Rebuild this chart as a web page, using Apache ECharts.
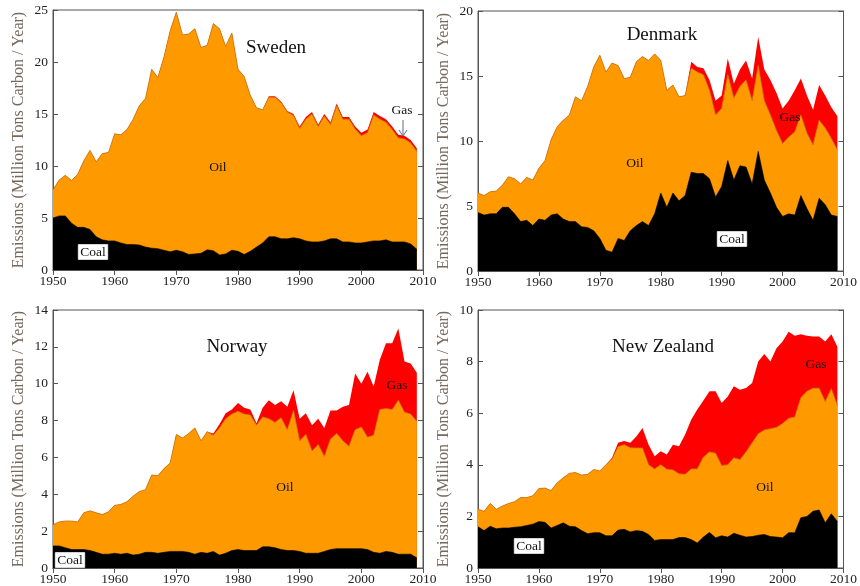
<!DOCTYPE html>
<html>
<head>
<meta charset="utf-8">
<script src="https://cdn.jsdelivr.net/npm/echarts@6/dist/echarts.min.js"></script>
<style>html,body{margin:0;padding:0;background:#fff}#c{width:860px;height:586px}</style>
</head>
<body>
<div id="c"></div>
<script>
// Years 1950..2009
const years = Array.from({length: 60}, (_, i) => 1950 + i);
const xTicks = [1950, 1960, 1970, 1980, 1990, 2000, 2010];
const yTitle = 'Emissions (Million Tons Carbon / Year)';

// Cumulative boundaries: coal top, coal+oil top, total (coal+oil+gas)
const swedenCoal = [5.0,5.2,5.2,4.5,4.1,4.1,3.9,3.2,2.9,2.8,2.8,2.6,2.45,2.45,2.4,2.2,2.1,2.05,1.9,1.75,1.9,1.75,1.5,1.55,1.6,1.95,1.85,1.45,1.55,1.9,1.8,1.5,1.8,2.2,2.6,3.2,3.2,3.0,3.0,3.1,3.0,2.8,2.7,2.7,2.8,3.0,3.0,2.7,2.7,2.6,2.6,2.7,2.8,2.8,2.9,2.7,2.7,2.7,2.5,2.0];
const swedenCoalOil = [7.7,8.65,9.1,8.6,9.2,10.5,11.5,10.4,11.2,11.3,13.1,13.0,13.5,14.5,15.8,16.5,19.3,18.5,20.5,23.0,24.8,22.6,22.7,23.2,21.4,21.6,23.7,23.2,21.5,22.8,19.3,18.6,16.8,15.6,15.4,16.6,16.6,16.1,15.2,14.85,13.6,14.5,15.0,13.8,14.8,14.0,15.8,14.5,14.5,13.55,12.9,13.2,14.9,14.5,14.2,13.5,12.7,12.6,12.2,11.4];
const swedenTotal = [7.7,8.65,9.1,8.6,9.2,10.5,11.5,10.4,11.2,11.3,13.1,13.0,13.5,14.5,15.8,16.5,19.3,18.5,20.5,23.0,24.8,22.6,22.7,23.2,21.4,21.6,23.7,23.2,21.5,22.8,19.3,18.6,16.8,15.6,15.4,16.7,16.7,16.2,15.3,15.0,13.8,14.7,15.2,14.0,15.0,14.2,16.0,14.7,14.7,13.8,13.2,13.5,15.2,14.8,14.5,13.8,13.0,12.9,12.5,11.7];

const denmarkCoal = [4.5,4.3,4.4,4.4,4.9,4.9,4.4,3.8,3.9,3.5,4.0,3.9,4.3,4.4,4.0,3.8,3.8,3.4,3.35,3.1,2.5,1.6,1.45,2.5,2.35,3.1,3.5,3.8,3.5,4.4,6.0,4.9,6.0,5.4,5.8,7.6,7.5,7.5,7.1,5.7,6.5,8.5,7.0,8.1,8.0,6.7,9.2,7.0,6.0,4.9,4.2,4.4,4.3,5.8,4.8,3.9,5.6,5.1,4.3,4.2];
const denmarkCoalOil = [6.0,5.8,6.1,6.15,6.6,7.25,7.1,6.7,7.2,7.0,7.9,8.5,10.1,11.1,11.6,12.0,13.4,13.1,14.2,15.7,16.6,15.3,16.0,15.8,14.8,14.9,16.1,16.5,16.2,16.7,16.2,13.9,14.3,13.4,13.5,15.6,15.3,15.1,13.9,12.0,12.5,15.1,13.3,14.2,14.7,13.1,15.8,13.1,12.0,10.8,9.8,10.3,10.7,12.0,10.6,9.7,11.6,11.0,10.2,9.3];
const denmarkTotal = [6.0,5.8,6.1,6.15,6.6,7.25,7.1,6.7,7.2,7.0,7.9,8.5,10.1,11.1,11.6,12.0,13.4,13.1,14.2,15.7,16.6,15.3,16.0,15.8,14.8,14.9,16.1,16.5,16.2,16.7,16.2,13.9,14.3,13.4,13.5,16.1,15.7,15.6,14.7,13.1,13.5,16.35,14.4,15.5,16.2,14.8,18.0,15.5,14.7,13.7,12.5,13.1,13.9,14.8,13.5,12.4,14.3,13.5,12.6,11.9];

const norwayCoal = [1.2,1.2,1.1,1.0,1.0,1.0,0.95,0.85,0.75,0.75,0.8,0.75,0.8,0.7,0.75,0.85,0.85,0.8,0.85,0.9,0.9,0.9,0.85,0.75,0.85,0.8,0.9,0.7,0.8,0.95,1.0,0.95,0.95,0.95,1.15,1.15,1.1,1.0,0.95,0.95,0.9,0.8,0.8,0.8,0.9,1.0,1.05,1.05,1.05,1.05,1.05,1.0,0.85,0.8,0.9,0.85,0.75,0.75,0.75,0.55];
const norwayCoalOil = [2.35,2.5,2.55,2.55,2.5,3.0,3.1,3.0,2.9,3.05,3.4,3.45,3.6,3.9,4.15,4.25,5.05,5.0,5.4,5.7,7.25,7.05,7.3,7.6,6.9,7.4,7.2,7.6,8.1,8.35,8.5,8.35,8.3,7.75,8.2,8.1,7.9,8.15,7.5,8.55,6.9,7.25,6.35,6.7,6.05,7.0,7.3,6.9,6.6,7.5,7.65,7.1,7.2,8.6,8.65,8.6,9.1,8.45,8.35,7.95];
const norwayTotal = [2.35,2.5,2.55,2.55,2.5,3.0,3.1,3.0,2.9,3.05,3.4,3.45,3.6,3.9,4.15,4.25,5.05,5.0,5.4,5.7,7.25,7.05,7.3,7.6,6.9,7.4,7.3,7.8,8.4,8.6,8.95,8.7,8.6,7.85,8.7,9.1,8.85,9.05,8.75,9.65,8.1,8.4,7.75,8.1,7.6,8.55,8.55,8.75,8.85,10.55,10.0,10.65,9.85,11.3,12.2,12.2,13.0,11.2,11.1,10.6];

const nzCoal = [1.6,1.45,1.62,1.52,1.55,1.55,1.58,1.6,1.65,1.7,1.8,1.77,1.55,1.65,1.75,1.62,1.6,1.45,1.33,1.37,1.37,1.25,1.25,1.47,1.5,1.4,1.45,1.42,1.3,1.07,1.1,1.1,1.1,1.18,1.18,1.1,0.97,1.2,1.38,1.17,1.25,1.2,1.35,1.27,1.2,1.22,1.27,1.3,1.22,1.2,1.17,1.37,1.37,1.95,2.0,2.2,2.25,1.75,2.1,1.8];
const nzCoalOil = [2.28,2.2,2.5,2.28,2.4,2.5,2.57,2.73,2.73,2.8,3.08,3.1,3.0,3.3,3.5,3.67,3.7,3.6,3.63,3.82,3.76,4.0,4.22,4.7,4.78,4.66,4.65,4.65,4.0,3.84,4.0,3.83,3.8,3.65,3.63,3.84,3.84,4.3,4.5,4.45,3.97,4.0,4.27,4.2,4.5,4.85,5.2,5.35,5.4,5.45,5.6,5.8,5.85,6.6,6.85,6.97,6.97,6.45,6.95,6.3];
const nzTotal = [2.28,2.2,2.5,2.28,2.4,2.5,2.57,2.73,2.73,2.8,3.08,3.1,3.0,3.3,3.5,3.67,3.7,3.6,3.63,3.82,3.76,4.0,4.27,4.85,4.92,4.85,5.1,5.43,4.78,4.33,4.53,4.4,4.78,4.72,5.17,5.75,6.14,6.49,6.85,6.85,6.4,6.65,7.04,6.91,6.98,7.17,8.0,8.29,8.0,8.52,8.78,9.16,9.0,9.06,9.0,8.97,8.97,8.78,9.06,8.58];

const panels = [
  {name: 'Sweden', coal: swedenCoal, coalOil: swedenCoalOil, total: swedenTotal, yMax: 25, yStep: 5,
   grid: {left: 53, top: 10, width: 370, height: 260}},
  {name: 'Denmark', coal: denmarkCoal, coalOil: denmarkCoalOil, total: denmarkTotal, yMax: 20, yStep: 5,
   grid: {left: 478, top: 11, width: 370, height: 260}},
  {name: 'Norway', coal: norwayCoal, coalOil: norwayCoalOil, total: norwayTotal, yMax: 14, yStep: 2,
   grid: {left: 53, top: 310, width: 370, height: 258}},
  {name: 'New Zealand', coal: nzCoal, coalOil: nzCoalOil, total: nzTotal, yMax: 10, yStep: 2,
   grid: {left: 478, top: 310, width: 370, height: 259}}
];

const FONT = '"Liberation Serif", "DejaVu Serif", serif';
const frame = '#555';
const grid = [], xAxis = [], yAxis = [], series = [];

panels.forEach((p, i) => {
  grid.push(Object.assign({show: true, borderColor: frame, borderWidth: 1, backgroundColor: 'transparent'}, p.grid));
  const tick = {show: true, inside: true, length: 5, lineStyle: {color: frame, width: 1}};
  xAxis.push({
    type: 'value', gridIndex: i, min: 1950, max: 2010, interval: 10, position: 'bottom',
    axisLine: {show: true, lineStyle: {color: frame}}, axisTick: tick,
    axisLabel: {fontFamily: FONT, fontSize: 13.5, color: '#222', margin: 4,
      formatter: v => xTicks.includes(v) ? String(v) : ''},
    splitLine: {show: false}
  });
  xAxis.push({
    type: 'value', gridIndex: i, min: 1950, max: 2010, interval: 10, position: 'top',
    axisLine: {show: true, lineStyle: {color: frame}}, axisTick: tick,
    axisLabel: {show: false}, splitLine: {show: false}
  });
  yAxis.push({
    type: 'value', gridIndex: i, min: 0, max: p.yMax, interval: p.yStep, position: 'left',
    axisLine: {show: true, lineStyle: {color: frame}}, axisTick: tick,
    axisLabel: {fontFamily: FONT, fontSize: 13.5, color: '#222', margin: 5},
    splitLine: {show: false},
    name: yTitle, nameLocation: 'middle', nameRotate: 90, nameGap: 26,
    nameTextStyle: {fontFamily: FONT, fontSize: 16, color: '#76695d'}
  });
  yAxis.push({
    type: 'value', gridIndex: i, min: 0, max: p.yMax, interval: p.yStep, position: 'right',
    axisLine: {show: true, lineStyle: {color: frame}}, axisTick: tick,
    axisLabel: {show: false}, splitLine: {show: false}
  });
  const toPairs = arr => arr.map((v, k) => [years[k], v]);
  const base = {type: 'line', xAxisIndex: 2 * i, yAxisIndex: 2 * i, showSymbol: false, symbol: 'none',
    animation: false, silent: true};
  series.push(Object.assign({}, base, {name: 'Gas', data: toPairs(p.total),
    lineStyle: {width: 0}, areaStyle: {color: '#ff0000', opacity: 1}, z: 2}));
  series.push(Object.assign({}, base, {name: 'Oil', data: toPairs(p.coalOil),
    lineStyle: {width: 0.8, color: '#c87a10'}, areaStyle: {color: '#ff9900', opacity: 1}, z: 3}));
  series.push(Object.assign({}, base, {name: 'Coal', data: toPairs(p.coal),
    lineStyle: {width: 0.6, color: '#000'}, areaStyle: {color: '#000000', opacity: 1}, z: 4}));
});

// Text annotations (pixel positions in the 860x586 canvas)
const txt = (x, y, text, size, extra) => ({
  type: 'text', x: x, y: y, z: 100,
  style: Object.assign({text: text, fontFamily: FONT, fontSize: size, fill: '#111',
    textAlign: 'center', textVerticalAlign: 'middle'}, extra || {})
});
const coalBox = {backgroundColor: '#fff', padding: [1, 2, 0, 2], borderColor: '#aaa', borderWidth: 0.5};
const graphic = [
  txt(276, 48, 'Sweden', 19), txt(218, 167, 'Oil', 13.5), txt(93, 252, 'Coal', 13.5, coalBox), txt(402, 110, 'Gas', 13.5),
  {type: 'line', z: 100, shape: {x1: 403, y1: 120, x2: 403, y2: 135}, style: {stroke: '#5b6f80', lineWidth: 1}},
  {type: 'polyline', z: 100, shape: {points: [[399, 130], [403, 136], [407, 130]]}, style: {stroke: '#5b6f80', lineWidth: 1, fill: null}},
  txt(662, 35, 'Denmark', 19), txt(635, 163, 'Oil', 13.5), txt(732, 239, 'Coal', 13.5, coalBox), txt(790, 117, 'Gas', 13.5),
  txt(237, 347, 'Norway', 19), txt(285, 487, 'Oil', 13.5), txt(70, 560, 'Coal', 13.5, coalBox), txt(397, 385, 'Gas', 13.5),
  txt(663, 347, 'New Zealand', 19), txt(765, 487, 'Oil', 13.5), txt(529, 546, 'Coal', 13.5, coalBox), txt(816, 364, 'Gas', 13.5)
];

const chart = echarts.init(document.getElementById('c'), null, {renderer: 'canvas'});
chart.setOption({animation: false, backgroundColor: '#fff', grid, xAxis, yAxis, series, graphic});
</script>
</body>
</html>
